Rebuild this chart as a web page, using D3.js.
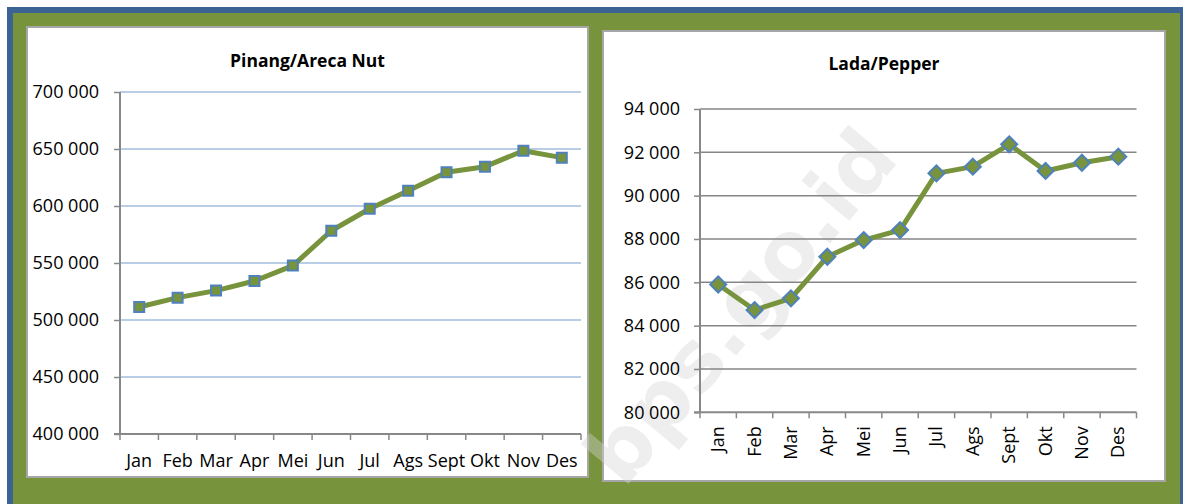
<!DOCTYPE html>
<html><head><meta charset="utf-8">
<script src="https://cdn.jsdelivr.net/npm/d3@7"></script>
<style>body{margin:0;background:#fff;overflow:hidden}</style>
</head><body><svg id="c" width="1183" height="504"></svg>
<script>
const months = ["Jan","Feb","Mar","Apr","Mei","Jun","Jul","Ags","Sept","Okt","Nov","Des"];
const pinangTitle = "Pinang/Areca Nut";
const pinangValues = [511400,519600,525800,534200,547700,578300,597600,613400,629600,634500,648500,642400];
const pinangTicks = [400000,450000,500000,550000,600000,650000,700000];
const ladaTitle = "Lada/Pepper";
const ladaValues = [85900,84720,85260,87180,87950,88410,91030,91340,92370,91140,91520,91800];
const ladaTicks = [80000,82000,84000,86000,88000,90000,92000,94000];

const FONT = "'Open Sans', 'Noto Sans', sans-serif";
const GREEN = "#77933c", BLUE = "#4f81bd", AXIS = "#888888";
const fmt = v => d3.format(",")(v).replace(/,/g, " ");

const svg = d3.select("#c");
// outer frame
svg.append("rect").attr("x",10).attr("y",10).attr("width",1173).attr("height",520)
  .attr("fill",GREEN).attr("stroke","#3b6494").attr("stroke-width",6);
const panelLayer = svg.append("g");
const wmLayer = svg.append("g");
const chartLayer = svg.append("g");

function drawChart(o){
  panelLayer.append("rect").attr("x",o.panel[0]).attr("y",o.panel[1]).attr("width",o.panel[2]).attr("height",o.panel[3])
    .attr("fill","#fff").attr("stroke","#a6a6a6").attr("stroke-width",2);
  const g = chartLayer.append("g");
  g.append("text").attr("x",o.panel[0]+o.panel[2]/2).attr("y",o.titleY).attr("text-anchor","middle")
    .attr("font-family",FONT).attr("font-weight","bold").attr("font-size",17.5).attr("fill","#000").text(o.title);

  const x = d3.scaleBand().domain(months).range(o.xr).padding(0);
  const xi = d3.scaleLinear().domain([0, months.length]).range(o.xr);
  const y = d3.scaleLinear().domain(o.dom).range(o.yr);

  // gridlines
  g.append("g").selectAll("line").data(o.ticks.slice(1)).join("line")
    .attr("x1",o.xr[0]).attr("x2",o.xr[1]).attr("y1",d=>y(d)).attr("y2",d=>y(d))
    .attr("stroke",o.grid).attr("stroke-width",o.gridW);

  // y axis
  const ya = g.append("g").attr("transform",`translate(${o.xr[0]},0)`)
    .call(d3.axisLeft(y).tickValues(o.ticks).tickSize(6).tickPadding(o.pad).tickFormat(fmt));
  ya.select(".domain").attr("stroke",AXIS).attr("stroke-width",2).attr("d",`M0,${o.yr[1]}V${o.yr[0]}`);
  ya.selectAll(".tick line").attr("stroke",AXIS).attr("stroke-width",1.5);
  ya.selectAll("text").attr("font-family",FONT).attr("font-size",18).attr("fill","#000");

  // x axis line + boundary ticks
  const xg = g.append("g");
  xg.append("line").attr("x1",o.xr[0]-6).attr("x2",o.xr[1]).attr("y1",o.yr[0]).attr("y2",o.yr[0])
    .attr("stroke",AXIS).attr("stroke-width",2);
  xg.selectAll("line.t").data(d3.range(0, months.length+1)).join("line").attr("class","t")
    .attr("x1",d=>xi(d)).attr("x2",d=>xi(d)).attr("y1",o.yr[0]).attr("y2",o.yr[0]+6)
    .attr("stroke",AXIS).attr("stroke-width",1.5);
  const lab = xg.selectAll("text").data(months).join("text")
    .attr("font-family",FONT).attr("font-size",18).attr("fill","#000").text(d=>d);
  if (o.rotate) {
    lab.attr("text-anchor","end")
      .attr("transform",d=>`translate(${x(d)+x.bandwidth()/2+6},${o.yr[0]+14}) rotate(-90)`);
  } else {
    lab.attr("text-anchor","middle").attr("x",d=>x(d)+x.bandwidth()/2).attr("y",o.labelY);
  }

  // line
  const line = d3.line().x((d,i)=>x(months[i])+x.bandwidth()/2).y(d=>y(d));
  g.append("path").datum(o.values).attr("d",line).attr("fill","none")
    .attr("stroke",GREEN).attr("stroke-width",5).attr("stroke-linejoin","round");
  const pts = g.append("g").selectAll("path").data(o.values).join("path")
    .attr("transform",(d,i)=>`translate(${x(months[i])+x.bandwidth()/2},${y(d)})`)
    .attr("fill",GREEN).attr("stroke",BLUE).attr("stroke-width",2);
  if (o.marker === "square") pts.attr("d","M-5,-5H5V5H-5Z");
  else pts.attr("d","M0,-8L8,0L0,8L-8,0Z");
}

drawChart({panel:[27,27,561,450], title:pinangTitle, titleY:67, xr:[120,581], yr:[434,92],
  dom:[400000,700000], ticks:pinangTicks, values:pinangValues, grid:"#b9cde5", gridW:2, pad:15,
  labelY:467, marker:"square", rotate:false});
drawChart({panel:[603,31,562,450], title:ladaTitle, titleY:70, xr:[700,1136.5], yr:[412.3,109],
  dom:[80000,94000], ticks:ladaTicks, values:ladaValues, grid:"#868686", gridW:1.5, pad:14,
  marker:"diamond", rotate:true});

// watermark (between panels and chart content)
wmLayer.append("text").attr("transform","translate(745,310) rotate(-50)")
  .attr("text-anchor","middle").attr("dominant-baseline","middle")
  .attr("font-family","'DejaVu Sans', sans-serif").attr("font-weight","bold").attr("font-size",82)
  .attr("fill","#d4d4d4").attr("fill-opacity",0.4).text("bps.go.id");
</script></body></html>
